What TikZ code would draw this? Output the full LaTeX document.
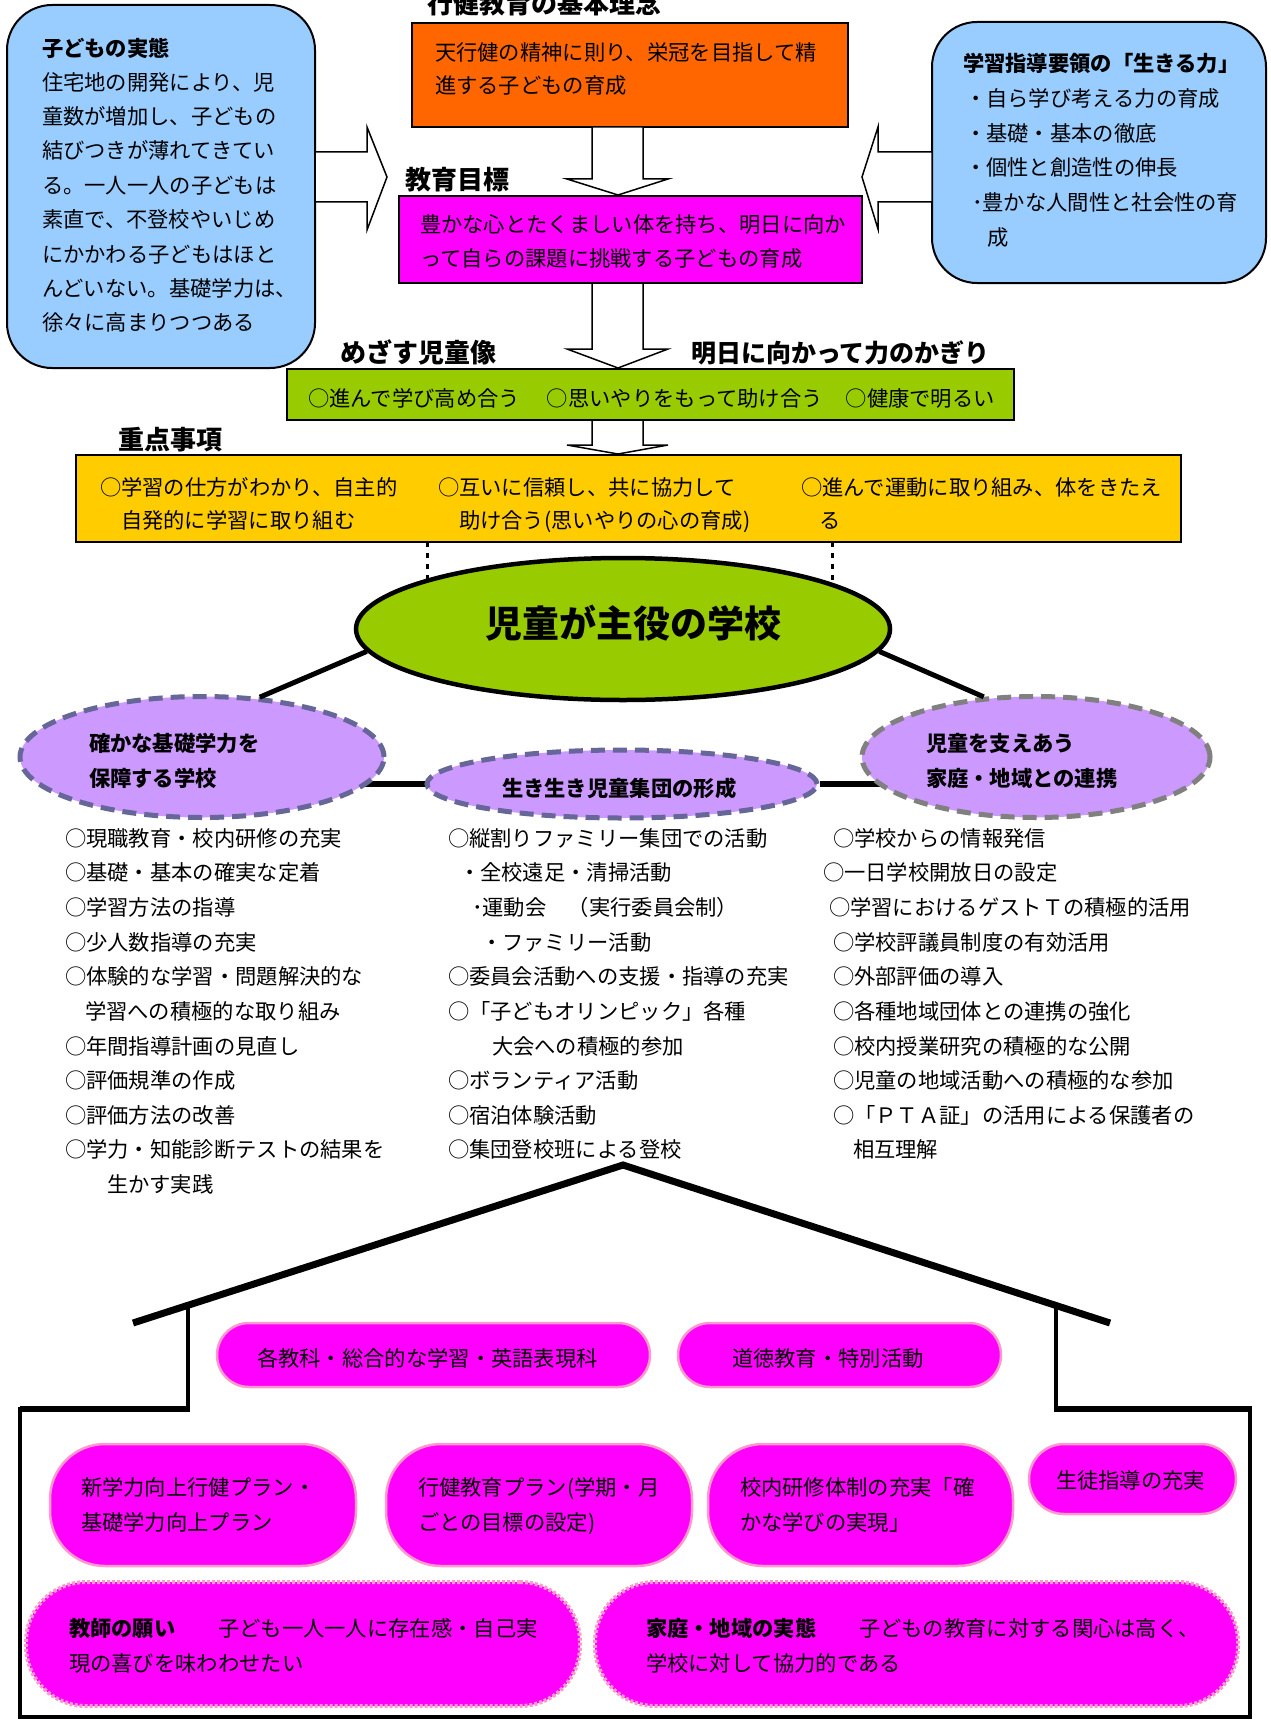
\documentclass[tikz,border=0pt]{standalone}
\usepackage{fontspec}
\setmainfont{Noto Sans CJK JP}
\usetikzlibrary{shapes.geometric,backgrounds}
\definecolor{cblue}{HTML}{99CCFF}
\definecolor{corange}{HTML}{FF6600}
\definecolor{cmag}{HTML}{FF00FF}
\definecolor{cgreen}{HTML}{99CC00}
\definecolor{cyel}{HTML}{FFCC00}
\definecolor{clav}{HTML}{CC99FF}
\definecolor{cslate}{HTML}{666699}
\definecolor{cgray}{HTML}{808080}
\definecolor{cpink}{HTML}{FF99CC}
\newcommand\fsz[1]{\fontsize{#1pt}{#1pt}\selectfont}
\begin{document}
\begin{tikzpicture}[x=1pt,y=-1pt,
  box/.style={rectangle,draw=black,line width=2pt,inner sep=0pt,outer sep=0pt},
  rbox/.style={box,rounded corners=45pt},
  blk/.style={draw=black,line width=1.5pt,fill=white,line join=miter},
  tx/.style={anchor=base west,inner sep=0pt,outer sep=0pt,font=\fsz{21.3}},
  hd/.style={tx,font=\bfseries\fsz{26}},
  hb/.style={tx,font=\bfseries\fsz{21.3}},
  pill/.style={rectangle,draw=cpink,line width=2.5pt,fill=cmag,inner sep=0pt},
  dpill/.style={rectangle,draw=cpink,line width=4pt,dash pattern=on 3pt off 2pt,fill=cmag,inner sep=0pt},
  dell/.style={ellipse,fill=clav,line width=5pt,dash pattern=on 14pt off 8pt,inner sep=0pt},
  conn/.style={draw=black,line width=5pt},
  dotl/.style={draw=black,line width=3pt,dash pattern=on 5pt off 6pt},
]
\useasboundingbox (0,0) rectangle (1270,1720);
\begin{scope}[on background layer]
\fill[white] (0,0) rectangle (1270,1720);
\end{scope}

% ---------- top boxes ----------
\node[rbox,fill=cblue,minimum width=308pt,minimum height=363pt] (lbox) at (161,186.5) {};
\node[rbox,fill=cblue,minimum width=334pt,minimum height=261pt] (rboxn) at (1099,152.5) {};
\node[box,fill=corange,minimum width=436pt,minimum height=104pt] (orng) at (630,75) {};
\node[box,fill=cmag,minimum width=463pt,minimum height=87pt] (goal) at (630.5,239.5) {};
\node[box,fill=cgreen,minimum width=727pt,minimum height=51pt] (grn) at (650.5,394.5) {};
\node[box,fill=cyel,minimum width=1105pt,minimum height=87pt] (yel) at (628.5,498.5) {};

% ---------- block arrows ----------
\draw[blk] (315,152) -- (367,152) -- (367,127) -- (387,177) -- (367,230) -- (367,202) -- (315,202) -- cycle;
\draw[blk] (932,152) -- (878,152) -- (878,127) -- (862,177) -- (878,229) -- (878,202) -- (932,202) -- cycle;
\draw[blk] (592,127) -- (592,179) -- (567,179) -- (618,195) -- (668,179) -- (643,179) -- (643,127) -- cycle;
\draw[blk] (592,283) -- (592,349) -- (567,349) -- (618,368) -- (668,349) -- (643,349) -- (643,283) -- cycle;
\draw[blk] (592,420) -- (592,445) -- (567,445) -- (618,454) -- (668,445) -- (643,445) -- (643,420) -- cycle;

% ---------- top texts ----------
\node[hb] (lbt) at (42,48+8.1) {子どもの実態};
\foreach \t [count=\i from 0] in {住宅地の開発により、児,童数が増加し、子どもの,結びつきが薄れてきてい,る。一人一人の子どもは,素直で、不登校やいじめ,にかかわる子どもはほと,んどいない。基礎学力は、,徐々に高まりつつある}
  \node[tx,name=lb\i] at (42,{82+34.4*\i+8.1}) {\t};

\node[hb] (rbt) at (963,63+8.1) {学習指導要領の「生きる力」};
\node[tx] (rb1) at (965,98+8.1) {・自ら学び考える力の育成};
\node[tx] (rb2) at (965,133+8.1) {・基礎・基本の徹底};
\node[tx] (rb3) at (965,167+8.1) {・個性と創造性の伸長};
\node[tx] (rb4) at (972,202+8.1) {･豊かな人間性と社会性の育};
\node[tx] (rb5) at (987,237+8.1) {成};

\node[hd] (ttl1) at (427,4+9.9) {行健教育の基本理念};
\node[tx] (or1) at (435,52+8.1) {天行健の精神に則り、栄冠を目指して精};
\node[tx] (or2) at (435,85+8.1) {進する子どもの育成};

\node[hd] (ttl2) at (405,180+9.9) {教育目標};
\node[tx] (gl1) at (420,224+8.1) {豊かな心とたくましい体を持ち、明日に向か};
\node[tx] (gl2) at (420,258+8.1) {って自らの課題に挑戦する子どもの育成};

\node[hd] (ttl3) at (340,353+9.9) {めざす児童像};
\node[tx,font=\bfseries\fsz{25}] (ttl4) at (691,353+9.5) {明日に向かって力のかぎり};
\node[tx] (gr1) at (308,398+8.1) {○進んで学び高め合う\hspace{27pt}○思いやりをもって助け合う\hspace{23pt}○健康で明るい};

\node[hd] (ttl5) at (118,440+9.9) {重点事項};
\node[tx] (ye1) at (100,487+8.1) {○学習の仕方がわかり、自主的};
\node[tx] (ye2) at (121,520+8.1) {自発的に学習に取り組む};
\node[tx] (ye3) at (438,487+8.1) {○互いに信頼し、共に協力して};
\node[tx] (ye4) at (459,520+8.1) {助け合う(思いやりの心の育成)};
\node[tx] (ye5) at (801,487+8.1) {○進んで運動に取り組み、体をきたえ};
\node[tx] (ye6) at (819,520+8.1) {る};

% ---------- ellipses ----------
\node[ellipse,draw=black,line width=4.5pt,fill=cgreen,minimum width=534pt,minimum height=142pt,inner sep=0pt] (cen) at (623,629) {};
\node[dell,draw=cslate,minimum width=364pt,minimum height=121pt] (lel) at (202,757) {};
\node[dell,draw=cslate,minimum width=390pt,minimum height=68pt] (mel) at (622,784) {};
\node[dell,draw=cgray,minimum width=348pt,minimum height=121pt] (rel) at (1036,757) {};

\begin{scope}[on background layer]
\coordinate (d1) at (427,542);
\coordinate (d2) at (832,542);
\draw[dotl] (d1) -- (d1 |- cen.center);
\draw[dotl] (d2) -- (d2 |- cen.center);
\draw[conn,line width=6pt] (mel.west) -- (mel.west -| lel.center);
\draw[conn,line width=6pt] (mel.east) -- (mel.east -| rel.center);
\end{scope}
\draw[conn] (cen.185) -- (lel.46);
\draw[conn] (cen.355) -- (rel.131);

\node[anchor=base,inner sep=0pt,font=\bfseries\fsz{37}] (cent) at (633,623+14) {児童が主役の学校};
\node[hb] (le1) at (89,743+8.1) {確かな基礎学力を};
\node[hb] (le2) at (89,778+8.1) {保障する学校};
\node[hb] (me1) at (502,788+8.1) {生き生き児童集団の形成};
\node[hb] (re1) at (926,743+8.1) {児童を支えあう};
\node[hb] (re2) at (926,778+8.1) {家庭・地域との連携};

% ---------- lists ----------
\foreach \xx/\t [count=\i from 0] in {65/○現職教育・校内研修の充実,65/○基礎・基本の確実な定着,65/○学習方法の指導,65/○少人数指導の充実,65/○体験的な学習・問題解決的な,85/学習への積極的な取り組み,65/○年間指導計画の見直し,65/○評価規準の作成,65/○評価方法の改善,65/○学力・知能診断テストの結果を,107/生かす実践}
  \node[tx,name=ll\i] at (\xx,{838+34.65*\i+8.1}) {\t};
\foreach \xx/\t [count=\i from 0] in {448/○縦割りファミリー集団での活動,459/・全校遠足・清掃活動,472/･運動会　（実行委員会制）,481/・ファミリー活動,448/○委員会活動への支援・指導の充実,448/○「子どもオリンピック」各種,492/大会への積極的参加,448/○ボランティア活動,448/○宿泊体験活動,448/○集団登校班による登校}
  \node[tx,name=ml\i] at (\xx,{838+34.65*\i+8.1}) {\t};
\foreach \xx/\t [count=\i from 0] in {833/○学校からの情報発信,823/○一日学校開放日の設定,829/○学習におけるゲストＴの積極的活用,833/○学校評議員制度の有効活用,833/○外部評価の導入,833/○各種地域団体との連携の強化,833/○校内授業研究の積極的な公開,833/○児童の地域活動への積極的な参加,833/○「ＰＴＡ証」の活用による保護者の,853/相互理解}
  \node[tx,name=rl\i] at (\xx,{838+34.65*\i+8.1}) {\t};

% ---------- house ----------
\coordinate (apex) at (623,1165);
\coordinate (rfl) at (133,1323);
\coordinate (rfr) at (1110,1323);
\draw[line width=7pt,line join=miter] (rfl) -- (apex) -- (rfr);
\draw[line width=4pt] (188,1305) -- (188,1409);
\draw[line width=4pt] (1056,1305) -- (1056,1409);
\draw[line width=6pt] (20,1409) -- (190,1409);
\draw[line width=6pt] (1054,1409) -- (1252,1409);
\draw[line width=4pt] (20,1407) -- (20,1717) -- (1250,1717) -- (1250,1407);

\node[pill,rounded corners=32pt,minimum width=433pt,minimum height=64pt] (rp1) at (433.5,1355) {};
\node[pill,rounded corners=32pt,minimum width=323pt,minimum height=64pt] (rp2) at (839.5,1355) {};
\node[tx] (rp1t) at (257,1358+8.1) {各教科・総合的な学習・英語表現科};
\node[tx] (rp2t) at (732,1358+8.1) {道徳教育・特別活動};

\node[pill,rounded corners=55pt,minimum width=306pt,minimum height=122pt] (p1) at (203,1505) {};
\node[pill,rounded corners=55pt,minimum width=306pt,minimum height=122pt] (p2) at (539,1505) {};
\node[pill,rounded corners=55pt,minimum width=305pt,minimum height=122pt] (p3) at (860.5,1505) {};
\node[pill,rounded corners=35pt,minimum width=207pt,minimum height=70pt] (p4) at (1132.5,1479) {};
\node[tx] (p1a) at (81,1487+8.1) {新学力向上行健プラン・};
\node[tx] (p1b) at (81,1522+8.1) {基礎学力向上プラン};
\node[tx] (p2a) at (418,1487+8.1) {行健教育プラン(学期・月};
\node[tx] (p2b) at (418,1522+8.1) {ごとの目標の設定)};
\node[tx] (p3a) at (740,1487+8.1) {校内研修体制の充実「確};
\node[tx] (p3b) at (740,1522+8.1) {かな学びの実現」};
\node[tx] (p4a) at (1056,1480+8.1) {生徒指導の充実};

\node[dpill,rounded corners=60pt,minimum width=554pt,minimum height=124pt] (b1) at (303,1644) {};
\node[dpill,rounded corners=60pt,minimum width=643pt,minimum height=124pt] (b2) at (916.5,1644) {};
\node[tx] (b1a) at (69,1628+8.1) {{\bfseries 教師の願い}　　子ども一人一人に存在感・自己実};
\node[tx] (b1b) at (69,1663+8.1) {現の喜びを味わわせたい};
\node[tx] (b2a) at (646,1628+8.1) {{\bfseries 家庭・地域の実態}　　子どもの教育に対する関心は高く、};
\node[tx] (b2b) at (646,1663+8.1) {学校に対して協力的である};
\end{tikzpicture}
\end{document}
